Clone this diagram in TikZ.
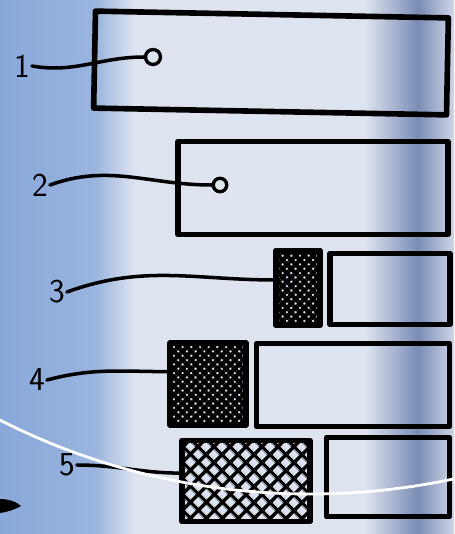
\documentclass[tikz,border=0pt]{standalone}
\usepackage{tikz}
\usetikzlibrary{positioning, patterns.meta}

\definecolor{skyblue}{RGB}{136,168,218}
\definecolor{paleblue}{RGB}{222,228,239}
\definecolor{shadeblue}{RGB}{122,140,182}

\begin{document}
\begin{tikzpicture}[x=0.02cm, y=-0.02cm,
    bar/.style={draw, line width=3.2pt, inner sep=0, outer sep=0, line join=round},
    hatchfine/.style={bar, pattern={Hatch[angle=45, distance=3.5pt, line width=2.3pt]}},
    hatchwide/.style={bar, pattern={Hatch[angle=45, distance=6.4pt, line width=2pt]}},
    ring/.style={draw, circle, line width=1.9pt, inner sep=0, minimum size=0.3cm},
    num/.style={font=\sffamily\fontsize{19}{19}\selectfont, inner sep=1pt},
    lead/.style={line width=2pt, line cap=round}]
  \useasboundingbox (0,0) rectangle (454,534);
  % background
  \fill[paleblue] (0,0) rectangle (454,534);
  \shade[left color=skyblue, right color=skyblue!80!paleblue] (0,0) rectangle (95,534);
  \shade[left color=skyblue!80!paleblue, right color=paleblue] (95,0) rectangle (135,534);
  \shade[left color=paleblue, right color=shadeblue] (365,0) rectangle (418,534);
  \shade[left color=shadeblue, right color=paleblue!85!shadeblue] (418,0) rectangle (454,534);
  % boxes
  \node[bar, rotate=-1.1, minimum width=7.06cm, minimum height=1.94cm] (bar1) at (271,63) {};
  \node[bar, minimum width=5.4cm, minimum height=1.86cm] (bar2) at (313,188) {};
  \node[hatchfine, minimum width=0.88cm, minimum height=1.5cm] (fill3) at (298,288) {};
  \node[bar, minimum width=2.4cm, minimum height=1.42cm] (bar3) at (390,289) {};
  \node[hatchfine, minimum width=1.52cm, minimum height=1.64cm] (fill4) at (208,384) {};
  \node[bar, minimum width=3.86cm, minimum height=1.66cm] (bar4) at (353,385) {};
  \node[hatchwide, minimum width=2.56cm, minimum height=1.62cm] (fill5) at (246,481) {};
  \node[bar, minimum width=2.46cm, minimum height=1.58cm] (bar5) at (388,477) {};
  \node[ring] (pin1) at (153,57) {};
  \node[ring, minimum size=0.27cm] (pin2) at (220,185) {};
  % labels
  \node[num] (lab1) at (22,66) {1};
  \node[num] (lab2) at (40,185) {2};
  \node[num] (lab3) at (57,292) {3};
  \node[num] (lab4) at (37,380) {4};
  \node[num] (lab5) at (67,465) {5};
  % leaders
  \draw[lead] (lab1.east) to[out=-10, in=180] (pin1.west);
  \draw[lead] (lab2.east) to[out=20, in=180] (pin2.west);
  \draw[lead] (lab3.east) to[out=20, in=180] (fill3.160);
  \draw[lead] (lab4.east) to[out=15, in=180] (fill4.162);
  \draw[lead] (lab5.east) to[out=0, in=180] (fill5.173);
  % white arc and blot
  \begin{scope}
    \clip (0,0) rectangle (454,534);
    \draw[white, line width=1.6pt] (310,-192) circle [radius=686];
  \end{scope}
  \fill (0,499) .. controls (9,499) and (17,502) .. (21,506) .. controls (14,510) and (7,512) .. (0,513) -- cycle;
\end{tikzpicture}
\end{document}
